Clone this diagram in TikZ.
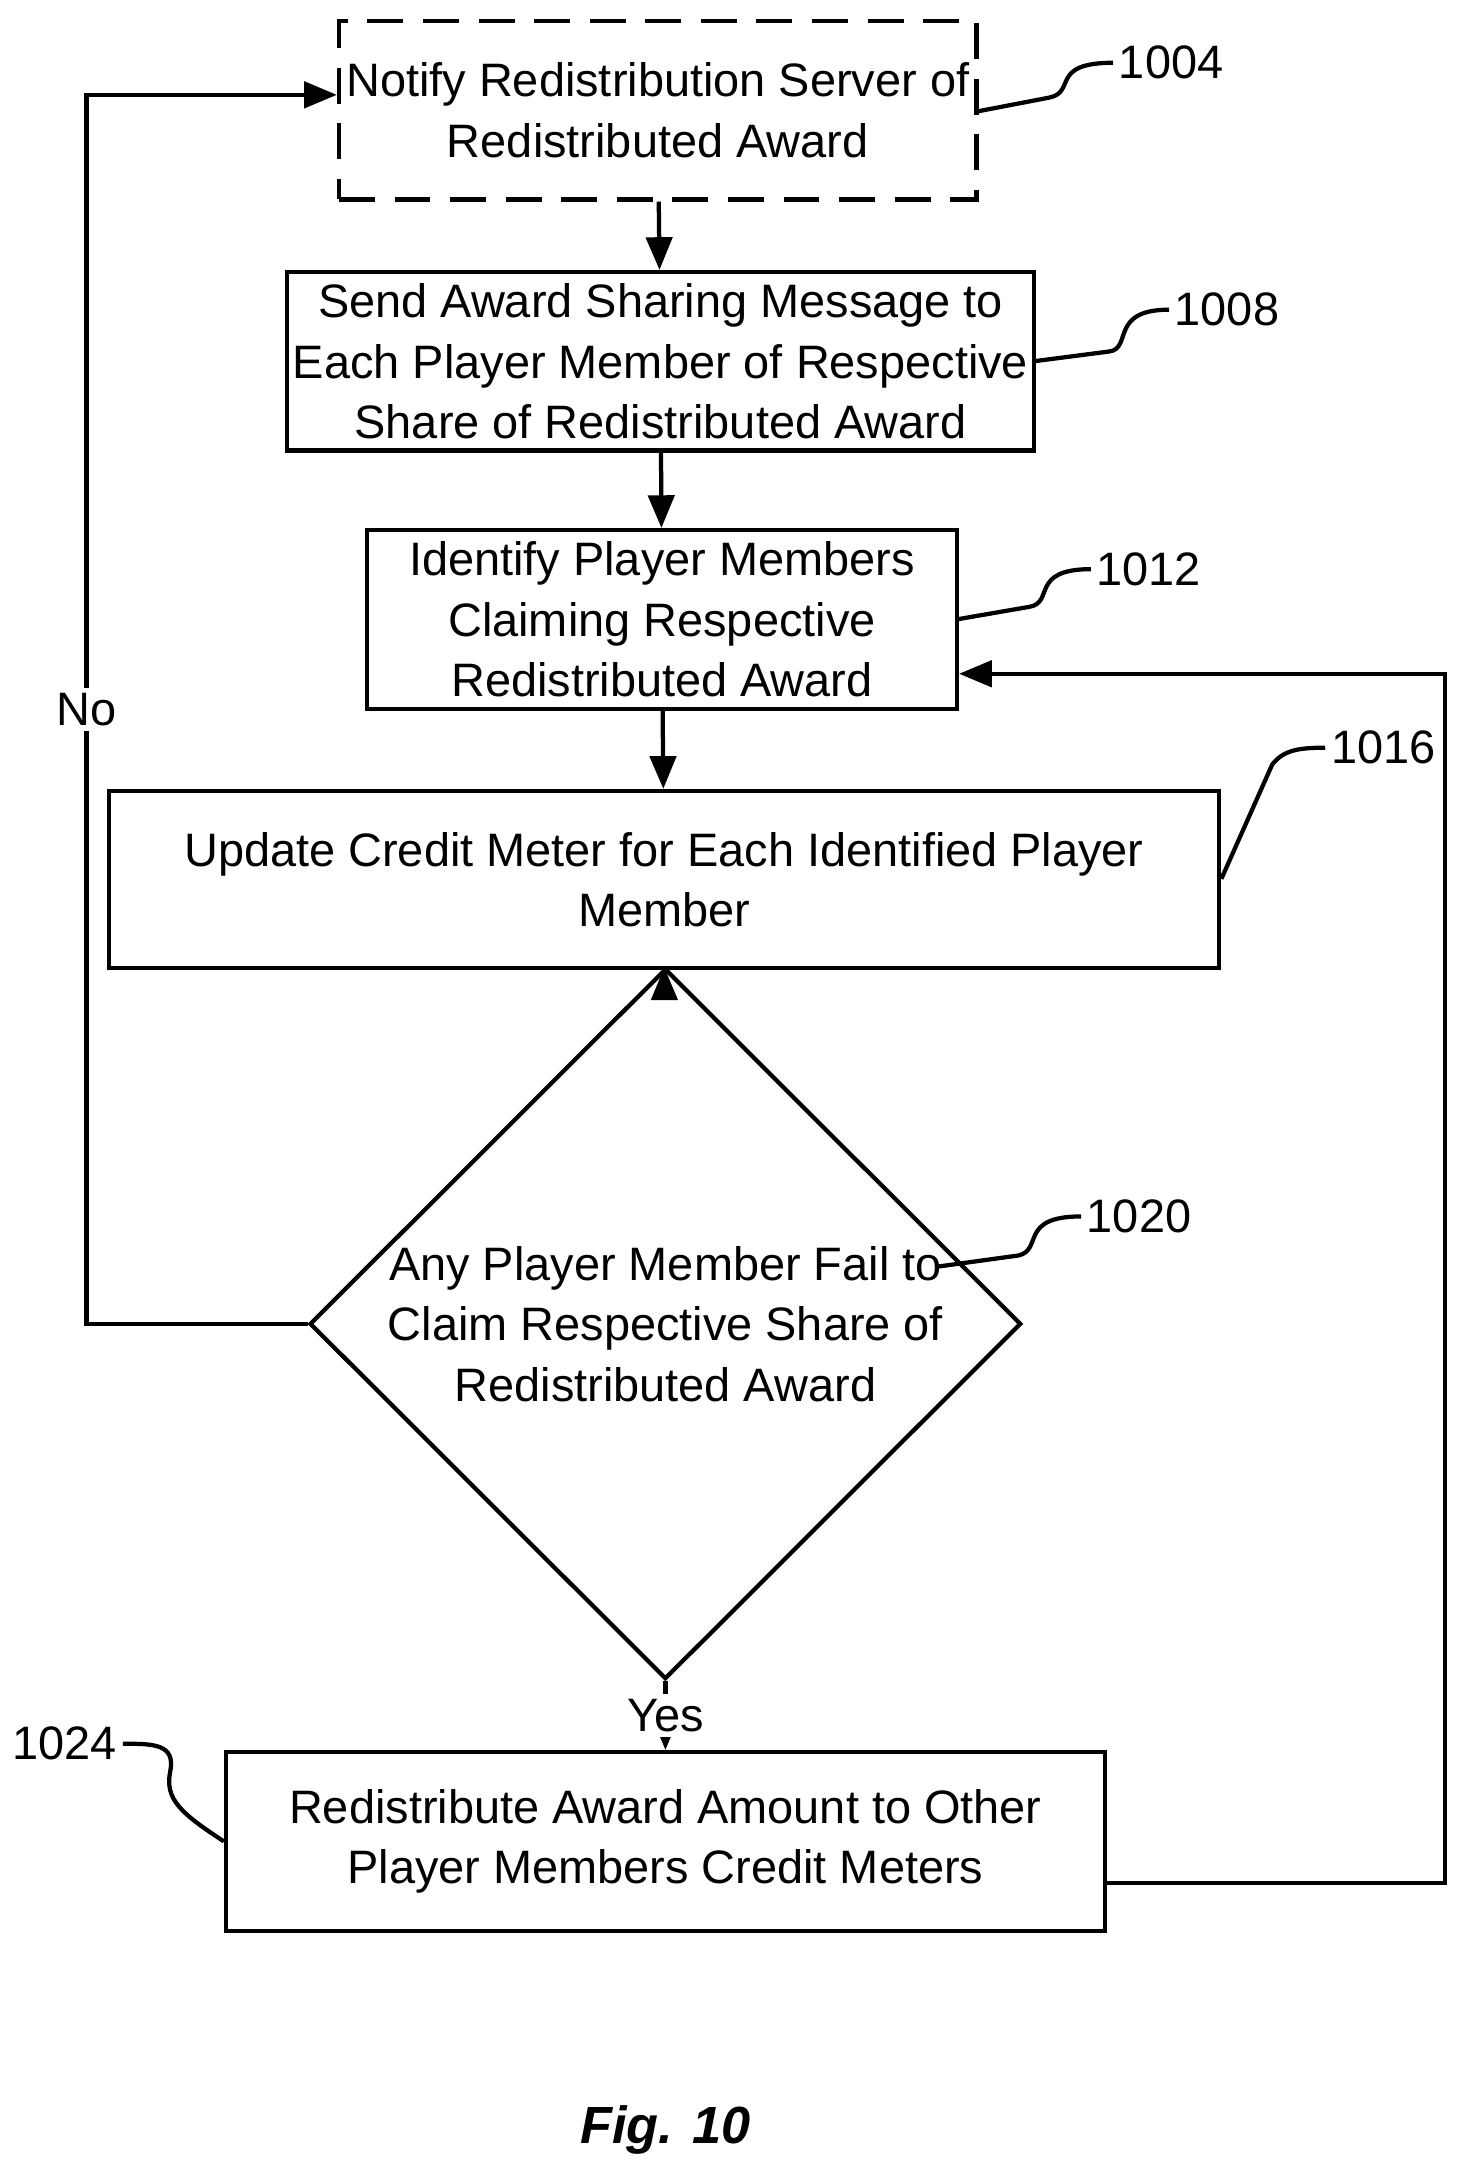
\documentclass[tikz,border=0pt]{standalone}
\usepackage{fontspec}
\setmainfont{Liberation Sans}
\usetikzlibrary{shapes.geometric,arrows.meta}
\begin{document}
\begin{tikzpicture}[x=0.03cm,y=-0.03cm,
  every node/.style={font=\fontsize{28.7}{37}\selectfont},
  stepbox/.style={draw,line width=2.6pt,align=center,inner sep=0pt,minimum height=3.84cm},
  flow/.style={-{Triangle[length=20pt,width=16pt]},line width=2.6pt},
  lead/.style={line width=2.6pt}]
  \useasboundingbox (0,0) rectangle (1050,1552);
  % boxes
  \node[stepbox,dashed,dash pattern=on 22pt off 12pt,minimum width=13.71cm] (notify) at (471.5,79) {Notify Redistribution Server of\\Redistributed Award};
  \node[stepbox,minimum width=16.05cm] (send) at (473.5,259) {Send Award Sharing Message to\\Each Player Member of Respective\\Share of Redistributed Award};
  \node[stepbox,minimum width=12.69cm] (ident) at (474.5,444) {Identify Player Members\\Claiming Respective\\Redistributed Award};
  \node[stepbox,minimum width=23.88cm,minimum height=3.81cm] (update) at (476,630.5) {Update Credit Meter for Each Identified Player\\Member};
  \node[draw,diamond,line width=2.6pt,align=center,inner sep=0pt,minimum width=15.3cm,minimum height=9.36cm] (fail) at (477,949) {Any Player Member Fail to\\Claim Respective Share of\\Redistributed Award};
  \node[stepbox,minimum width=18.9cm] (redist) at (477,1320) {Redistribute Award Amount to Other\\Player Members Credit Meters};
  \node[font=\fontsize{32}{38}\selectfont\bfseries\itshape] (fig) at (477,1527) {Fig. 10};
  % reference labels
  \node[anchor=west] (l1004) at (798,45) {1004};
  \node[anchor=west] (l1008) at (838,222) {1008};
  \node[anchor=west] (l1012) at (782,408) {1012};
  \node[anchor=west] (l1016) at (950,536) {1016};
  \node[anchor=west] (l1020) at (775,872) {1020};
  \node[anchor=east] (l1024) at (88,1250) {1024};
  \coordinate (c1) at (700,80);
  \coordinate (c2) at (741,259);
  \coordinate (c3) at (686,444);
  \coordinate (c5) at (672,908);
  \draw[lead] (c1) -- (752,70) .. controls (772,66) and (752,45) .. (l1004.west);
  \draw[lead] (c2) -- (795,252) .. controls (812,250) and (795,222) .. (l1008.west);
  \draw[lead] (c3) -- (738,435) .. controls (756,432) and (738,408) .. (l1012.west);
  \draw[lead] (update.east |- 0,630) -- (912,548) .. controls (920,538) and (930,536) .. (l1016.west);
  \draw[lead] (c5) -- (730,900) .. controls (748,896) and (730,872) .. (l1020.west);
  \draw[lead] (redist.west |- 0,1320) .. controls (130,1300) and (118,1290) .. (122,1270) .. controls (126,1250) and (110,1250) .. (l1024.east);
  % flow
  \draw[flow] (notify) -- (send);
  \draw[flow] (send) -- (ident);
  \draw[flow] (ident) -- (update);
  \draw[flow] (update) -- (fail);
  \draw[flow] (fail) -- node[fill=white,inner sep=3pt] (yes) {Yes} (redist);
  \draw[flow] (fail.west) -- (62,949) -- node[fill=white,inner sep=3pt] (no) {No} (62,68) -- (notify.west |- 0,68);
  \draw[flow] (redist.east |- 0,1350) -- (1036,1350) -- (1036,483) -- (ident.east |- 0,483);
\end{tikzpicture}
\end{document}
